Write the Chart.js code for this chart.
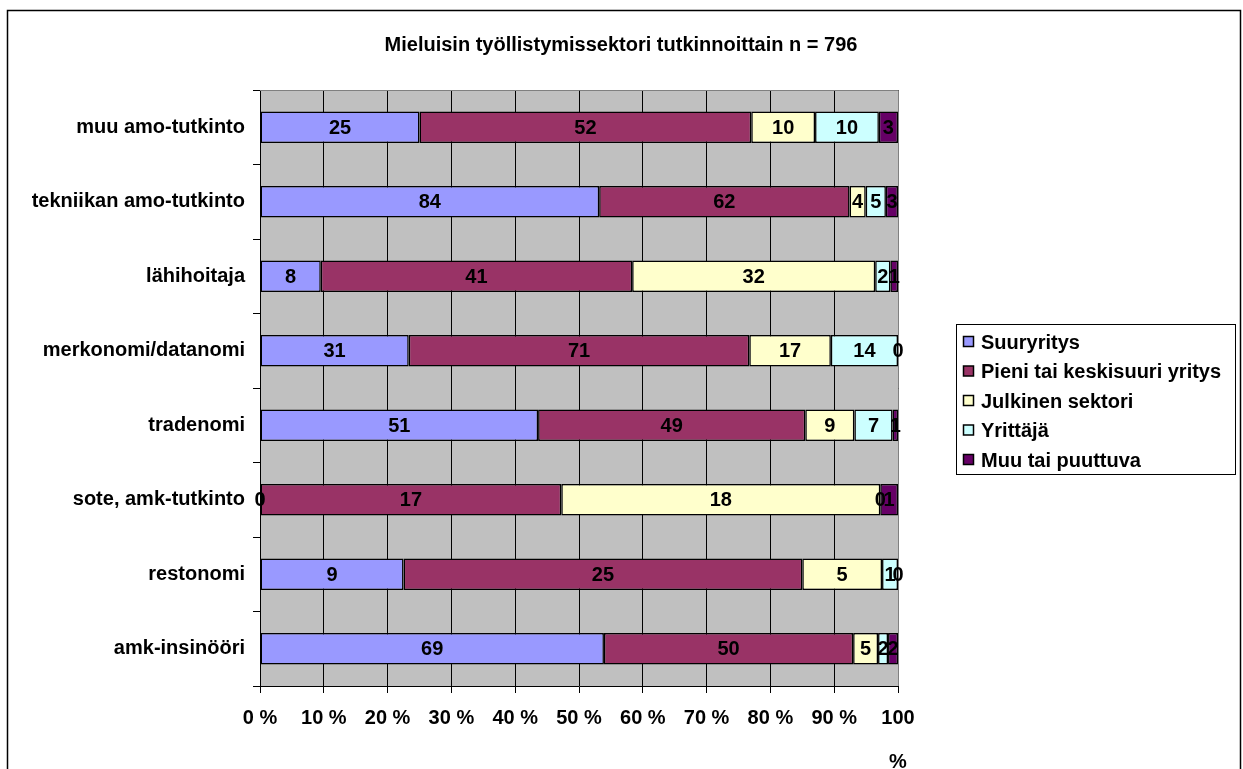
<!DOCTYPE html>
<html>
<head>
<meta charset="utf-8">
<script src="https://cdn.jsdelivr.net/npm/chart.js@4/dist/chart.umd.min.js"></script>
<style>
html,body{margin:0;padding:0;background:#fff;}
#wrap{width:1243px;height:769px;position:relative;}
</style>
</head>
<body>
<div id="wrap"><canvas id="c" width="1243" height="769"></canvas></div>
<script>
const titleText = 'Mieluisin työllistymissektori tutkinnoittain n = 796';
const categories = ['muu amo-tutkinto','tekniikan amo-tutkinto','lähihoitaja','merkonomi/datanomi','tradenomi','sote, amk-tutkinto','restonomi','amk-insinööri'];
const seriesNames = ['Suuryritys','Pieni tai keskisuuri yritys','Julkinen sektori','Yrittäjä','Muu tai puuttuva'];
const suuryritys = [25,84,8,31,51,0,9,69];
const pieni = [52,62,41,71,49,17,25,50];
const julkinen = [10,4,32,17,9,18,5,5];
const yrittaja = [10,5,2,14,7,0,1,2];
const muu = [3,3,1,0,1,1,0,2];
const xTickValues = [0,10,20,30,40,50,60,70,80,90,100];
const xTickLabels = ['0 %','10 %','20 %','30 %','40 %','50 %','60 %','70 %','80 %','90 %',['100','','%']];
const colors = ['#9999FF','#993366','#FFFFCC','#CCFFFF','#660066'];

const counts = [suuryritys,pieni,julkinen,yrittaja,muu];
const totals = categories.map((_,i)=>counts.reduce((s,a)=>s+a[i],0));
const FAMILY = '"Liberation Sans", Arial, sans-serif';
const FONT = 'bold 20px ' + FAMILY;

const datasets = counts.map((arr,k)=>({
  label: seriesNames[k],
  data: arr.map((v,i)=>v/totals[i]*100),
  counts: arr,
  backgroundColor: colors[k],
  borderColor: '#000',
  borderWidth: 1.5,
  borderSkipped: false,
  barPercentage: 0.42,
  categoryPercentage: 1
}));

const deco = {
  id:'deco',
  beforeDraw(chart){
    const {ctx, chartArea:a} = chart;
    ctx.save();
    ctx.fillStyle='#fff'; ctx.fillRect(0,0,chart.width,chart.height);
    ctx.fillStyle='#C0C0C0'; ctx.fillRect(a.left,a.top,a.right-a.left,a.bottom-a.top);
    ctx.restore();
  },
  beforeDatasetsDraw(chart){
    const {ctx, chartArea:a} = chart;
    ctx.save();
    ctx.strokeStyle='#808080'; ctx.lineWidth=1;
    ctx.beginPath();
    ctx.moveTo(a.left, a.top+0.5); ctx.lineTo(a.right+0.5, a.top+0.5); ctx.lineTo(a.right+0.5, a.bottom);
    ctx.stroke();
    ctx.restore();
  },
  afterDatasetsDraw(chart){
    const {ctx} = chart;
    ctx.save();
    ctx.font = FONT; ctx.fillStyle='#000'; ctx.textAlign='center'; ctx.textBaseline='middle';
    chart.data.datasets.forEach((ds,di)=>{
      const meta = chart.getDatasetMeta(di);
      meta.data.forEach((el,i)=>{
        ctx.fillText(String(ds.counts[i]), (el.x+el.base)/2, el.y+1);
      });
    });
    ctx.restore();
  },
  afterDraw(chart){
    const {ctx} = chart;
    ctx.save();
    ctx.strokeStyle='#000'; ctx.lineWidth=1.5;
    ctx.strokeRect(7.5,10.5,1233,800);
    ctx.lineWidth=1;
    ctx.font = FONT; ctx.fillStyle='#000'; ctx.textAlign='center'; ctx.textBaseline='middle';
    ctx.fillText(titleText, 621, 45);
    ctx.strokeRect(956.5,324.5,279,150);
    ctx.textAlign='left';
    chart.data.datasets.forEach((ds,i)=>{
      const y = 342 + i*29.5;
      ctx.fillStyle = ds.backgroundColor;
      ctx.fillRect(963.5, y-5.5, 10, 10);
      ctx.strokeStyle='#000'; ctx.lineWidth=1.5;
      ctx.strokeRect(963.5, y-5.5, 10, 10);
      ctx.fillStyle='#000';
      ctx.fillText(ds.label, 981, y+1);
    });
    ctx.restore();
  }
};

new Chart(document.getElementById('c'), {
  type:'bar',
  data:{labels:categories, datasets},
  options:{
    indexAxis:'y',
    responsive:false,
    animation:false,
    events:[],
    layout:{padding:{left:0,top:90,right:345,bottom:0}},
    plugins:{legend:{display:false},title:{display:false},tooltip:{enabled:false}},
    scales:{
      x:{
        stacked:true, min:0, max:100,
        afterBuildTicks(scale){ scale.ticks = xTickValues.map(v=>({value:v})); },
        afterFit(scale){ scale.height = 83; },
        ticks:{
          autoSkip:false, maxRotation:0, padding:14, color:'#000',
          font:{family:FAMILY, size:20, weight:'bold', lineHeight:1.1},
          callback:(v,i)=>xTickLabels[i]
        },
        grid:{color:'#000', lineWidth:1, tickLength:7, drawOnChartArea:true},
        border:{color:'#000', width:1}
      },
      y:{
        stacked:true,
        afterFit(scale){ scale.width = 260; },
        ticks:{
          padding:8, color:'#000',
          font:{family:FAMILY, size:20, weight:'bold'}
        },
        grid:{offset:true, drawOnChartArea:false, color:'#000', tickLength:7},
        border:{color:'#000', width:1}
      }
    }
  },
  plugins:[deco]
});
</script>
</body>
</html>
